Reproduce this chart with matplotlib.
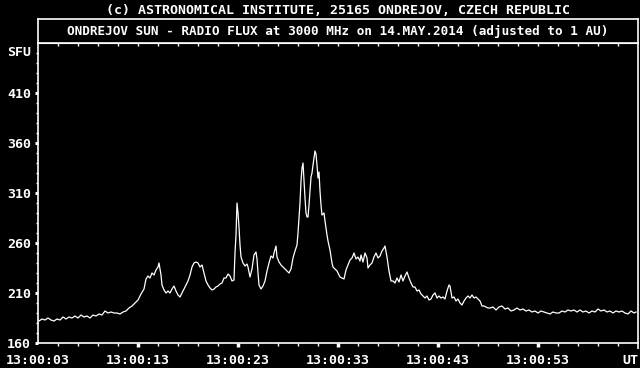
import matplotlib
matplotlib.use("Agg")
import matplotlib.pyplot as plt
from matplotlib.transforms import blended_transform_factory

# texts
header = "(c) ASTRONOMICAL INSTITUTE, 25165 ONDREJOV, CZECH REPUBLIC"
title = "ONDREJOV SUN - RADIO FLUX at 3000 MHz on 14.MAY.2014 (adjusted to 1 AU)"
unit_label = "SFU"

# x axis: seconds after 13:00:00 as printed on the chart
x_major = [3, 13, 23, 33, 43, 53, 63]
x_labels = ["13:00:03", "13:00:13", "13:00:23", "13:00:33",
            "13:00:43", "13:00:53", "UT"]
y_major = [160, 210, 260, 310, 360, 410]

# flux record (time, SFU)
time_s = [
    3.1, 3.4, 3.7, 4.0, 4.3, 4.6, 4.9, 5.2, 5.5, 5.8, 6.1, 6.4, 6.7, 7.0, 7.3,
    7.6, 7.9, 8.2, 8.5, 8.8, 9.1, 9.4, 9.7, 10.0, 10.3, 10.6, 10.9, 11.2, 11.5,
    11.8, 12.1, 12.4, 12.7, 13.0, 13.3, 13.6, 13.8, 14.0, 14.2, 14.4, 14.6,
    14.8, 15.0, 15.1, 15.3, 15.4, 15.6, 15.8, 16.0, 16.2, 16.4, 16.6, 16.8,
    17.0, 17.2, 17.4, 17.6, 17.8, 18.0, 18.2, 18.4, 18.6, 18.8, 19.0, 19.2,
    19.4, 19.6, 19.8, 20.0, 20.2, 20.4, 20.6, 20.8, 21.0, 21.2, 21.4, 21.6,
    21.8, 22.0, 22.2, 22.4, 22.6, 22.7, 22.8, 22.9, 23.0, 23.1, 23.2, 23.3,
    23.5, 23.7, 23.9, 24.0, 24.2, 24.4, 24.6, 24.8, 24.9, 25.0, 25.1, 25.3,
    25.5, 25.7, 25.9, 26.1, 26.3, 26.5, 26.6, 26.8, 26.9, 27.1, 27.3, 27.5,
    27.7, 27.9, 28.1, 28.3, 28.5, 28.7, 28.9, 29.0, 29.1, 29.2, 29.3, 29.4,
    29.5, 29.6, 29.7, 29.8, 29.9, 30.0, 30.1, 30.2, 30.3, 30.4, 30.5, 30.6,
    30.7, 30.8, 30.9, 31.0, 31.1, 31.2, 31.3, 31.4, 31.5, 31.6, 31.7, 31.8,
    31.9, 32.0, 32.2, 32.4, 32.5, 32.7, 32.9, 33.0, 33.2, 33.4, 33.6, 33.8,
    34.0, 34.2, 34.4, 34.6, 34.8, 35.0, 35.2, 35.3, 35.5, 35.7, 35.9, 36.0,
    36.2, 36.4, 36.6, 36.8, 37.0, 37.2, 37.4, 37.6, 37.7, 37.9, 38.1, 38.3,
    38.5, 38.7, 38.9, 39.1, 39.3, 39.5, 39.7, 39.9, 40.1, 40.3, 40.5, 40.7,
    40.9, 41.1, 41.3, 41.5, 41.7, 41.9, 42.1, 42.3, 42.5, 42.7, 42.9, 43.1,
    43.3, 43.5, 43.7, 43.9, 44.1, 44.2, 44.4, 44.6, 44.8, 45.0, 45.2, 45.4,
    45.6, 45.8, 46.0, 46.2, 46.4, 46.6, 46.8, 47.0, 47.2, 47.4, 47.6, 47.8,
    48.0, 48.2, 48.5, 48.8, 49.1, 49.4, 49.7, 50.0, 50.3, 50.6, 50.9, 51.2,
    51.5, 51.8, 52.1, 52.4, 52.7, 53.0, 53.3, 53.6, 53.9, 54.2, 54.5, 54.8,
    55.1, 55.4, 55.7, 56.0, 56.3, 56.6, 56.9, 57.2, 57.5, 57.8, 58.1, 58.4,
    58.7, 59.0, 59.3, 59.6, 59.9, 60.2, 60.5, 60.8, 61.1, 61.4, 61.7, 62.0,
    62.3, 62.6, 62.8,
]
flux_sfu = [
    182, 184, 183, 185, 183, 182, 184, 183, 186, 184, 186, 185, 187, 185, 188,
    186, 187, 185, 188, 187, 189, 188, 192, 190, 191, 190, 190, 189, 191,
    192, 195, 197, 200, 203, 209, 214, 224, 227, 225, 230, 228,
    233, 236, 240, 228, 218, 213, 210, 212, 210, 214, 217, 212,
    208, 206, 210, 214, 218, 222, 228, 236, 240, 241, 240, 236,
    238, 230, 222, 218, 215, 213, 214, 216, 217, 219, 220, 225,
    225, 229, 227, 222, 223, 250, 268, 300, 290, 276, 258, 246,
    240, 237, 239, 236, 226, 234, 248, 251, 244, 230, 218, 214,
    217, 222, 232, 240, 247, 245, 250, 257, 246, 241, 238, 236,
    234, 232, 230, 234, 245, 252, 258, 270, 285, 300, 322, 335,
    340, 322, 305, 290, 286, 286, 298, 312, 326, 330, 338, 345,
    352, 349, 338, 325, 331, 312, 298, 288, 289, 290, 282, 275,
    268, 262, 253, 240, 236, 234, 232, 230, 226, 225, 224, 233,
    238, 243, 245, 250, 244, 246, 242, 248, 241, 250, 245, 235,
    238, 240, 246, 250, 245, 247, 252, 255, 257, 246, 232, 222,
    222, 220, 225, 221, 228, 222, 227, 231, 225, 220, 216, 216,
    212, 213, 209, 207, 205, 207, 203, 204, 208, 210, 205, 207,
    205, 206, 204, 212, 218, 217, 205, 206, 202, 204, 200, 198,
    202, 205, 207, 205, 208, 205, 206, 204, 202, 197, 197, 196,
    195, 195, 196, 193, 196, 197, 194, 195, 192, 193, 195, 193,
    194, 192, 193, 191, 192, 190, 192, 191, 190, 189, 191, 190,
    190, 192, 191, 193, 192, 193, 191, 193, 191, 192, 190, 192,
    191, 194, 192, 193, 191, 192, 190, 192, 191, 192, 190, 189,
    192, 190, 191,
]

plt.rcParams["font.family"] = ["DejaVu Sans Mono"]
plt.rcParams["font.weight"] = "bold"
FS = 9.5
W, H = 640, 368

fig = plt.figure(figsize=(W / 100, H / 100), dpi=100, facecolor="black")

# main plot area
ax = fig.add_axes([38 / W, 25 / H, 600 / W, 300 / H], facecolor="black")
ax.plot(time_s, flux_sfu, color="white", lw=0.9)
ax.set_xlim(3, 63)
ax.set_ylim(160, 460)

for s in ax.spines.values():
    s.set_color("white")
    s.set_linewidth(1.2)

ax.set_xticks(x_major)
ax.set_xticklabels(x_labels)
ax.set_xticks(range(5, 63, 2), minor=True)
ax.set_yticks(y_major)
ax.set_yticks(range(170, 460, 10), minor=True)

ax.tick_params(axis="both", which="both", colors="white", labelsize=FS)
ax.tick_params(axis="x", which="major", length=3, width=2.5, pad=5)
ax.tick_params(axis="x", which="minor", length=1.8, width=1)
ax.tick_params(axis="y", which="major", length=2.5, width=2.2, pad=2.5)
ax.tick_params(axis="y", which="minor", length=1.5, width=1)

# first tick has no mark, the UT tick is a thin line, its label ends at the edge
xt = ax.xaxis.get_major_ticks()
xt[0].tick1line.set_visible(False)
xt[-1].tick1line.set_markeredgewidth(1.2)
xt[-1].tick1line.set_markersize(4)
xt[-1].label1.set_horizontalalignment("right")

# small ticks along the top edge, pointing down
top = ax.secondary_xaxis("top")
top.set_xticks(range(5, 63, 2))
top.tick_params(direction="in", length=1.8, width=1, colors="white",
                labeltop=False)
top.spines["top"].set_color("white")

trans = blended_transform_factory(ax.transAxes, ax.transData)
ax.text(-0.012, 450, unit_label, transform=trans, ha="right", va="center",
        color="white", fontsize=FS)

# title box
tb = fig.add_axes([38 / W, 325 / H, 600 / W, 24 / H], facecolor="black")
tb.set_xticks([])
tb.set_yticks([])
for s in tb.spines.values():
    s.set_color("white")
    s.set_linewidth(1.2)
tb.text(0.5, 0.5, title, transform=tb.transAxes, ha="center", va="center",
        color="white", fontsize=FS * 0.96)

fig.text(338 / W, 1 - 10 / H, header, ha="center", va="center",
         color="white", fontsize=FS)

fig.savefig("out.png", dpi=100, facecolor="black")
